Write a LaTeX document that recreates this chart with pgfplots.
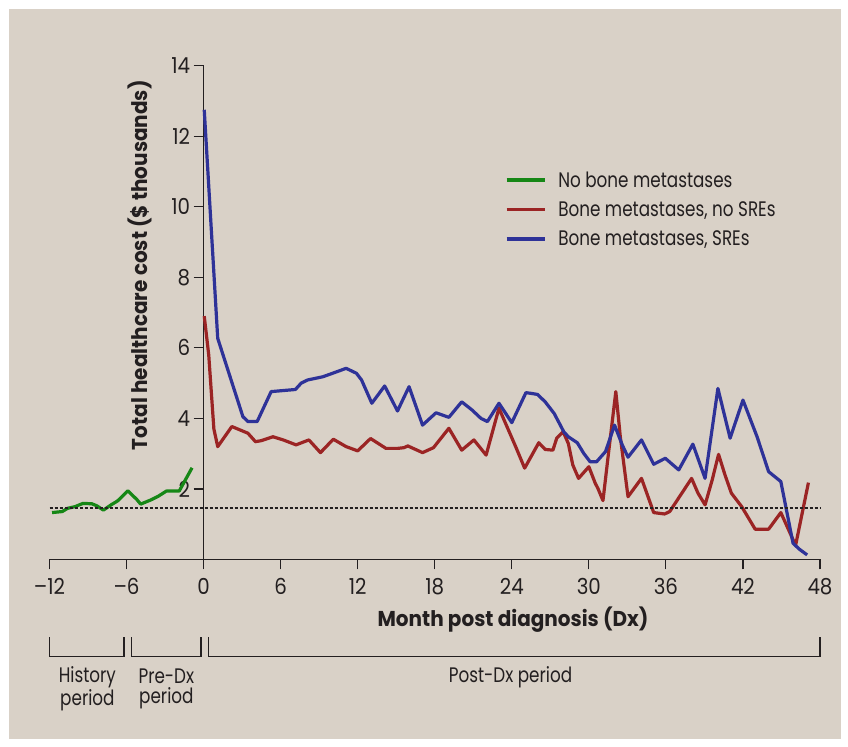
\documentclass[border=0pt]{standalone}
\usepackage{fontspec}
\setmainfont[FakeStretch=0.8, BoldFeatures={FakeStretch=0.93}]{Poppins}
\newfontfamily\tickfamily[FakeStretch=0.9, Ligatures=TeX]{Poppins}
\usepackage{pgfplots}
\pgfplotsset{compat=1.18}
\definecolor{bg}{RGB}{217,209,199}
\definecolor{cgreen}{RGB}{22,135,22}
\definecolor{cred}{RGB}{155,36,36}
\definecolor{cblue}{RGB}{46,50,152}
\definecolor{axc}{RGB}{35,31,32}
\newcommand{\rfnt}{\fontsize{21bp}{23bp}\selectfont}
\newcommand{\tfnt}{\tickfamily\fontsize{22bp}{24bp}\selectfont}
\newcommand{\bfnt}{\fontsize{21.5bp}{24bp}\selectfont\bfseries}
\begin{document}
\begin{tikzpicture}
\fill[white] (0,0) rectangle (848bp,747bp);
\fill[bg] (9bp,8bp) rectangle (841bp,738bp);
\begin{axis}[
  at={(49.5bp,187.5bp)}, anchor=south west,
  scale only axis, width=770.5bp, height=493.8bp,
  xmin=-12, xmax=48, ymin=0, ymax=14,
  axis x line=bottom, axis y line=middle,
  axis line style={-, axc, line width=1.1bp},
  hide obscured x ticks=false, hide obscured y ticks=false,
  tick align=outside, major tick length=10bp,
  tick style={axc, line width=1.1bp},
  xtick={-12,-6,0,6,12,18,24,30,36,42,48},
  xticklabels={\textendash12,\textendash6,0,6,12,18,24,30,36,42,48},
  ytick={2,4,6,8,10,12,14},
  yticklabels={2,4,6,8,10,12,14},
  ticklabel style={font=\tfnt, text=axc},
  xticklabel style={yshift=-5bp},
  clip=false,
  every axis x label/.style={at={(axis description cs:0.6016,-0.1225)}, anchor=center, font=\bfnt, text=axc},
  every axis y label/.style={at={(axis description cs:0.117,0.596)}, anchor=center, rotate=90, font=\bfnt, text=axc},
  xlabel={Month post diagnosis (Dx)},
  ylabel={Total healthcare cost (\$ thousands)},
  legend style={at={(axis description cs:0.591,0.786)}, anchor=north west, draw=none, fill=none,
    font=\rfnt, text=axc, row sep=13bp, inner sep=0pt,
    nodes={inner xsep=12bp, inner ysep=0pt}},
  legend cell align=left,
  legend image code/.code={\draw[#1, line width=3.2bp] (0bp,0bp) -- (38bp,0bp);},
  every axis plot/.append style={line width=3.2bp, line join=round},
]
\addplot[cgreen] coordinates {
(-11.8,1.33) (-11,1.36) (-10.6,1.45) (-10,1.50) (-9.4,1.59) (-8.7,1.58) (-8.3,1.52)
(-7.8,1.40) (-7.2,1.55) (-6.7,1.66) (-5.9,1.95) (-5.2,1.70) (-4.9,1.57) (-4.1,1.69)
(-3.5,1.80) (-2.9,1.94) (-1.9,1.94) (-0.9,2.60)
};
\addlegendentry{No bone metastases}
\addplot[cred] coordinates {
(0.05,6.9) (0.4,5.8) (0.8,3.7) (1.1,3.2) (2.2,3.77) (3.45,3.58) (4.04,3.34) (4.5,3.37)
(5.4,3.48) (6.2,3.39) (7.2,3.25) (8.2,3.39) (9.1,3.03) (10.1,3.41) (11.1,3.20) (12.0,3.08)
(13.0,3.43) (14.2,3.15) (15.1,3.15) (15.6,3.17) (15.9,3.22) (17.05,3.03) (17.9,3.17)
(19.1,3.72) (20.1,3.10) (21.05,3.39) (22.0,2.96) (23.0,4.29) (24.3,3.20) (25.0,2.59)
(26.1,3.31) (26.6,3.12) (27.2,3.10) (27.5,3.44) (28.0,3.62) (28.4,3.29) (28.75,2.68)
(29.2,2.30) (30.0,2.63) (30.5,2.16) (30.7,2.02) (31.1,1.67) (31.5,2.92) (32.1,4.76) (32.45,3.48)
(33.05,1.78) (34.1,2.30) (35.05,1.33) (35.9,1.29) (36.3,1.36) (38.0,2.30) (38.5,1.88)
(39.05,1.55) (39.6,2.25) (40.1,2.98) (40.6,2.40) (41.1,1.88) (41.9,1.50) (42.95,0.86)
(44.0,0.86) (44.95,1.33) (46.1,0.40) (47.1,2.18)
};
\addlegendentry{Bone metastases, no SREs}
\addplot[cblue] coordinates {
(0.05,12.75) (1.1,6.27) (3.06,4.05) (3.45,3.91) (4.17,3.91) (5.26,4.76) (7.15,4.82)
(7.6,5.0) (8.1,5.09) (9.28,5.18) (10.2,5.30) (11.1,5.42) (11.9,5.28) (12.3,5.09)
(13.1,4.43) (14.1,4.92) (15.1,4.21) (15.5,4.52) (16.0,4.90) (17.05,3.81) (18.1,4.16)
(19.1,4.03) (20.1,4.47) (20.9,4.24) (21.6,4.00) (22.1,3.91) (23.0,4.43) (24.0,3.88)
(25.1,4.73) (25.5,4.71) (26.0,4.68) (26.6,4.47) (27.3,4.14) (28.05,3.62) (28.4,3.48)
(29.1,3.31) (29.6,3.01) (30.1,2.77) (30.6,2.77) (31.3,3.06) (32.0,3.81) (32.6,3.25)
(33.05,2.90) (34.1,3.39) (35.05,2.70) (35.95,2.87) (37.0,2.54) (38.1,3.27) (39.05,2.30)
(40.05,4.85) (41.0,3.44) (42.0,4.52) (43.1,3.48) (44.0,2.49) (44.95,2.21) (45.9,0.46)
(46.4,0.29) (47.0,0.13)
};
\addlegendentry{Bone metastases, SREs}
\addplot[axc, line width=1.1bp, dash pattern=on 3bp off 2bp, forget plot] coordinates {(-12,1.46) (48,1.46)};
% period brackets
\draw[axc, line width=1.1bp] (axis cs:-12,-2.2) -- (axis cs:-12,-2.76) -- (axis cs:-6.2,-2.76) -- (axis cs:-6.2,-2.2);
\draw[axc, line width=1.1bp] (axis cs:-5.6,-2.2) -- (axis cs:-5.6,-2.76) -- (axis cs:-0.2,-2.76) -- (axis cs:-0.2,-2.2);
\draw[axc, line width=1.1bp] (axis cs:0.35,-2.2) -- (axis cs:0.35,-2.76) -- (axis cs:48,-2.76) -- (axis cs:48,-2.2);
\node[align=center, font=\fontsize{21bp}{20bp}\selectfont, text=axc] at (axis cs:-9.05,-3.66) {History\\period};
\node[align=center, font=\fontsize{21bp}{20bp}\selectfont, text=axc] at (axis cs:-2.9,-3.66) {Pre-Dx\\period};
\node[align=center, font=\fontsize{21bp}{20bp}\selectfont, text=axc] at (axis cs:23.9,-3.33) {Post-Dx period};
\end{axis}
\end{tikzpicture}
\end{document}
